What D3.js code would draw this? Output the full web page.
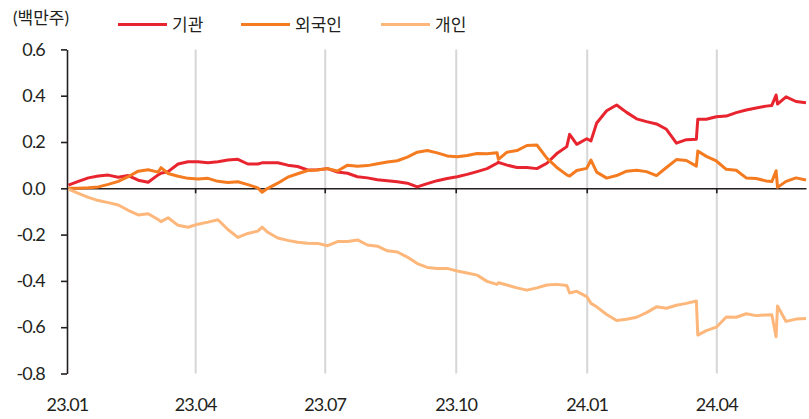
<!DOCTYPE html>
<html>
<head>
<meta charset="utf-8">
<script src="https://cdn.jsdelivr.net/npm/d3@7"></script>
<style>
  body { margin: 0; background: #fff; }
  svg text { font-family: "Lato", "Noto Sans CJK KR", sans-serif; fill: #231f20; }
</style>
</head>
<body>
<div id="chart"></div>
<script>
// 누적 순매수 (백만주), weekly + a few extra days around jumps
const dates = [
  "2023-01-02", "2023-01-09", "2023-01-16", "2023-01-23", "2023-01-30", "2023-02-06", "2023-02-13",
  "2023-02-20", "2023-02-27", "2023-03-06", "2023-03-08", "2023-03-13", "2023-03-20", "2023-03-27",
  "2023-04-03", "2023-04-10", "2023-04-17", "2023-04-24", "2023-05-01", "2023-05-08", "2023-05-15",
  "2023-05-18", "2023-05-22", "2023-05-29", "2023-06-05", "2023-06-12", "2023-06-19", "2023-06-26",
  "2023-07-03", "2023-07-10", "2023-07-17", "2023-07-24", "2023-07-31", "2023-08-07", "2023-08-14",
  "2023-08-21", "2023-08-28", "2023-09-04", "2023-09-11", "2023-09-18", "2023-09-25", "2023-10-02",
  "2023-10-09", "2023-10-16", "2023-10-23", "2023-10-30", "2023-10-31", "2023-11-06", "2023-11-13",
  "2023-11-20", "2023-11-27", "2023-12-04", "2023-12-11", "2023-12-18", "2023-12-20", "2023-12-25",
  "2024-01-01", "2024-01-04", "2024-01-08", "2024-01-15", "2024-01-22", "2024-01-29", "2024-02-05",
  "2024-02-12", "2024-02-19", "2024-02-26", "2024-03-04", "2024-03-11", "2024-03-18", "2024-03-19",
  "2024-03-25", "2024-04-01", "2024-04-08", "2024-04-15", "2024-04-22", "2024-04-29", "2024-05-06",
  "2024-05-10", "2024-05-13", "2024-05-14", "2024-05-20", "2024-05-27", "2024-06-03"
]

const institution = [
  0.014, 0.03, 0.045, 0.053, 0.057, 0.048, 0.055,
  0.035, 0.026, 0.058, 0.065, 0.072, 0.105, 0.115,
  0.115, 0.11, 0.115, 0.122, 0.125, 0.105, 0.105,
  0.11, 0.11, 0.11, 0.10, 0.094, 0.079, 0.08,
  0.085, 0.07, 0.065, 0.05, 0.045, 0.037, 0.033,
  0.028, 0.022, 0.006, 0.02, 0.033, 0.042, 0.05,
  0.06, 0.072, 0.085, 0.108, 0.112, 0.1, 0.09,
  0.09, 0.085, 0.108, 0.15, 0.18, 0.233, 0.19,
  0.214, 0.205, 0.282, 0.335, 0.36, 0.328, 0.3,
  0.288, 0.278, 0.255, 0.195, 0.21, 0.212, 0.298,
  0.298, 0.309, 0.312, 0.327, 0.338, 0.347, 0.355,
  0.358, 0.403, 0.364, 0.395, 0.375, 0.37
]

const foreigner = [
  0.0, 0.0, 0.002, 0.006, 0.017, 0.03, 0.05,
  0.074, 0.08, 0.07, 0.089, 0.064, 0.052, 0.043,
  0.04, 0.043, 0.03, 0.025, 0.028, 0.016, 0.002,
  -0.017, 0.0, 0.022, 0.048, 0.063, 0.077, 0.079,
  0.085, 0.075, 0.1, 0.095, 0.098, 0.106, 0.114,
  0.119, 0.135, 0.156, 0.163, 0.153, 0.14, 0.136,
  0.142, 0.15, 0.149, 0.154, 0.125, 0.156, 0.163,
  0.185, 0.187, 0.13, 0.09, 0.058, 0.053, 0.077,
  0.086, 0.122, 0.07, 0.044, 0.055, 0.074, 0.078,
  0.072, 0.055, 0.09, 0.124, 0.12, 0.096, 0.161,
  0.138, 0.118, 0.082, 0.078, 0.045, 0.042, 0.032,
  0.029, 0.076, 0.004, 0.03, 0.045, 0.036
]

const individual = [
  -0.004, -0.022, -0.039, -0.053, -0.062, -0.072, -0.095,
  -0.115, -0.11, -0.135, -0.144, -0.127, -0.16, -0.168,
  -0.155, -0.146, -0.136, -0.178, -0.212, -0.195, -0.185,
  -0.168, -0.19, -0.215, -0.225, -0.233, -0.237, -0.238,
  -0.248, -0.23, -0.23, -0.223, -0.245, -0.25, -0.27,
  -0.275, -0.297, -0.325, -0.342, -0.346, -0.346, -0.357,
  -0.366, -0.375, -0.402, -0.415, -0.408, -0.418, -0.43,
  -0.44, -0.43, -0.418, -0.415, -0.42, -0.452, -0.445,
  -0.468, -0.497, -0.512, -0.545, -0.571, -0.566, -0.557,
  -0.537, -0.512, -0.518, -0.505, -0.497, -0.487, -0.634,
  -0.615, -0.6, -0.556, -0.557, -0.542, -0.55, -0.547,
  -0.546, -0.641, -0.508, -0.575, -0.565, -0.562
]

const seriesNames = ["기관", "외국인", "개인"]
const seriesColors = ["#e8242f", "#f47b20", "#fdb77b"]
const yTicks = [-0.8, -0.6, -0.4, -0.2, 0.0, 0.2, 0.4, 0.6]
const xTicks = ["2023-01-01", "2023-04-01", "2023-07-01", "2023-10-01", "2024-01-01", "2024-04-01"]
const unitLabel = "(백만주)"

const width = 809
const height = 419
const margin = { top: 49.4, right: 3, bottom: 45.5, left: 67 }

const parseDate = d3.timeParse("%Y-%m-%d")
const dateValues = dates.map(parseDate)
const xTickDates = xTicks.map(parseDate)

const svg = d3.select("#chart")
  .append("svg")
    .attr("width", width)
    .attr("height", height)

const xScale = d3.scaleTime()
  .domain([parseDate("2023-01-01"), parseDate("2024-06-03")])
  .range([margin.left, width - margin.right])

const yScale = d3.scaleLinear()
  .domain([-0.8, 0.6])
  .range([height - margin.bottom, margin.top])

// vertical grid lines (skip 23.01, which sits on the y axis)
svg.append("g")
    .attr("class", "grid")
    .attr("transform", `translate(0, ${yScale(-0.8)})`)
    .call(d3.axisBottom(xScale)
      .tickValues(xTickDates.slice(1))
      .tickSize(-(yScale(-0.8) - yScale(0.6)))
      .tickFormat(""))
    .call(g => g.select(".domain").remove())
    .call(g => g.selectAll("line").attr("stroke", "#d6d6d6").attr("stroke-width", 2))

// x labels
svg.append("g")
    .attr("transform", `translate(0, ${yScale(-0.8)})`)
    .call(d3.axisBottom(xScale)
      .tickValues(xTickDates)
      .tickSize(0)
      .tickPadding(25)
      .tickFormat(d3.timeFormat("%y.%m")))
    .call(g => g.select(".domain").remove())
    .call(g => g.selectAll("text")
      .attr("font-size", 18)
      .attr("letter-spacing", -0.8))

// zero line with small ticks
svg.append("g")
    .attr("transform", `translate(0, ${yScale(0)})`)
    .call(d3.axisBottom(xScale)
      .tickValues(xTickDates.slice(1))
      .tickSize(5)
      .tickSizeOuter(0)
      .tickFormat(""))
    .call(g => g.select(".domain").attr("stroke", "#231f20").attr("stroke-width", 1.6))
    .call(g => g.selectAll("line").attr("stroke", "#231f20").attr("stroke-width", 1.6))

// y axis
svg.append("g")
    .attr("transform", `translate(${margin.left}, 0)`)
    .call(d3.axisLeft(yScale)
      .tickValues(yTicks)
      .tickSize(6)
      .tickSizeOuter(0)
      .tickPadding(16)
      .tickFormat(d => d3.format(".1f")(d).replace("−", "-")))
    .call(g => g.select(".domain").attr("stroke", "#231f20").attr("stroke-width", 1.6))
    .call(g => g.selectAll("line").attr("stroke", "#231f20").attr("stroke-width", 1.6))
    .call(g => g.selectAll("text")
      .attr("font-size", 18)
      .attr("letter-spacing", -0.8))

// lines
const seriesValues = [institution, foreigner, individual]
const lineGenerator = d3.line()
  .x((d, i) => xScale(dateValues[i]))
  .y(d => yScale(d))

seriesValues.forEach((values, i) => {
  svg.append("path")
      .datum(values)
      .attr("fill", "none")
      .attr("stroke", seriesColors[i])
      .attr("stroke-width", 3)
      .attr("stroke-linejoin", "round")
      .attr("d", lineGenerator)
})

// unit label
svg.append("text")
    .attr("x", 13)
    .attr("y", 24)
    .attr("font-size", 17)
    .text(unitLabel)

// legend
const legendX = [118, 241, 381]
const legend = svg.append("g")
    .attr("transform", "translate(0, 24.5)")

seriesNames.forEach((name, i) => {
  legend.append("line")
      .attr("x1", legendX[i])
      .attr("x2", legendX[i] + 49)
      .attr("stroke", seriesColors[i])
      .attr("stroke-width", 3)
  legend.append("text")
      .attr("x", legendX[i] + 54)
      .attr("y", 6)
      .attr("font-size", 17)
      .text(name)
})
</script>
</body>
</html>
